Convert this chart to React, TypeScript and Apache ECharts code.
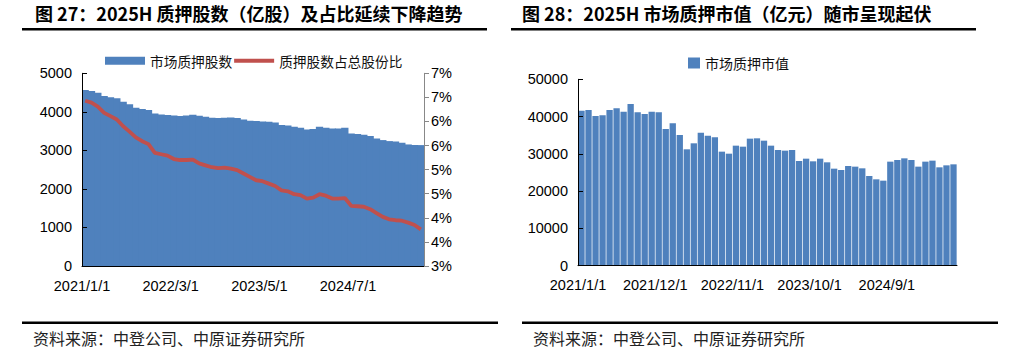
import React, { useEffect, useRef } from "react";
import * as echarts from "echarts";

// Month categories 2021/1/1 .. 2025/6/1
const months: string[] = [];
for (let y = 2021; y <= 2025; y++) {
  for (let m = 1; m <= 12; m++) {
    if (y === 2025 && m > 6) break;
    months.push(`${y}/${m}/1`);
  }
}

// 图27: 市场质押股数 (亿股)
const pledgedShares = [
  4567, 4541, 4497, 4411, 4376, 4350, 4263, 4194, 4107, 4073,
  4047, 3960, 3934, 3917, 3908, 3891, 3908, 3925, 3899, 3873,
  3847, 3839, 3847, 3856, 3839, 3804, 3769, 3761, 3752, 3743,
  3726, 3657, 3648, 3613, 3588, 3544, 3553, 3613, 3588, 3570,
  3570, 3588, 3440, 3423, 3405, 3371, 3310, 3267, 3241, 3232,
  3198, 3154, 3137, 3137,
];

// 图27: 质押股数占总股份比 (%)
const pledgedRatio = [
  6.43, 6.39, 6.31, 6.18, 6.11, 6.04, 5.9, 5.79, 5.67, 5.59,
  5.53, 5.35, 5.32, 5.29, 5.22, 5.2, 5.2, 5.21, 5.13, 5.09,
  5.05, 5.03, 5.04, 5.02, 4.99, 4.92, 4.85, 4.78, 4.76, 4.71,
  4.66, 4.57, 4.55, 4.49, 4.47, 4.4, 4.42, 4.49, 4.46, 4.4,
  4.4, 4.41, 4.25, 4.24, 4.23, 4.18, 4.1, 4.02, 3.97, 3.95,
  3.94, 3.9, 3.85, 3.76,
];

// 图28: 市场质押市值 (亿元)
const pledgedValue = [
  41590, 41770, 40160, 40340, 41770, 42220, 41320, 43380, 41150, 40700,
  41320, 41150, 36670, 38190, 35060, 31220, 32830, 35690, 34880, 34440,
  30590, 30050, 32200, 31930, 34080, 34170, 33540, 32200, 31040, 30860,
  31040, 28090, 28710, 28000, 28710, 27730, 26030, 25670, 26740, 26570,
  26120, 24060, 23170, 22810, 27910, 28350, 28800, 28350, 26570, 27910,
  28180, 26390, 26920, 27190,
];

const leftTicks = [0, 1000, 2000, 3000, 4000, 5000];
const rightPctMin = 3;
const rightPctMax = 7;
const valueTicksMax = 50000;

const title27 = "图 27：2025H 质押股数（亿股）及占比延续下降趋势";
const title28 = "图 28：2025H 市场质押市值（亿元）随市呈现起伏";
const source = "资料来源：中登公司、中原证券研究所";

const NUM_FONT = "'Liberation Sans', Arial, sans-serif";
const CJK_FONT = "'Noto Sans CJK SC', 'Liberation Sans', sans-serif";
const BLUE = "#4F81BD";
const RED = "#C0504D";

export default function App() {
  const ref = useRef<HTMLDivElement>(null);

  useEffect(() => {
    if (!ref.current) return;
    const chart = echarts.init(ref.current, undefined, { renderer: "svg" });

    const labelStyle = {
      fontFamily: NUM_FONT,
      fontSize: 14.5,
      color: "#000",
    };

    chart.setOption({
      animation: false,
      backgroundColor: "#fff",
      grid: [
        { left: 82, top: 73.3, width: 342, height: 192.7, containLabel: false },
        { left: 578, top: 79.3, width: 379, height: 186.4, containLabel: false },
      ],
      legend: [
        {
          left: 105,
          top: 54,
          padding: 0,
          itemWidth: 40,
          itemHeight: 8,
          itemGap: 0,
          textStyle: { fontFamily: CJK_FONT, fontSize: 13.7, color: "#111" },
          data: [
            { name: "市场质押股数", icon: "rect" },
            {
              name: "质押股数占总股份比",
              itemStyle: { opacity: 0 },
              lineStyle: { width: 4, color: RED },
            },
          ],
        },
        {
          left: 688,
          top: 56,
          padding: 0,
          itemWidth: 12,
          itemHeight: 11,
          textStyle: { fontFamily: CJK_FONT, fontSize: 14, color: "#111" },
          data: [{ name: "市场质押市值", icon: "rect" }],
        },
      ],
      xAxis: [
        {
          type: "category",
          gridIndex: 0,
          data: months,
          z: 10,
          axisLine: { lineStyle: { color: "#000", width: 1 } },
          axisTick: { inside: true, length: 5, interval: 13, lineStyle: { color: "#000" } },
          axisLabel: { ...labelStyle, interval: 13, margin: 12, padding: [0, 6.3, 0, 0] },
          splitLine: { show: false },
        },
        {
          type: "category",
          gridIndex: 1,
          data: months,
          z: 10,
          axisLine: { lineStyle: { color: "#000", width: 1 } },
          axisTick: { inside: true, length: 5, interval: 10, lineStyle: { color: "#000" } },
          axisLabel: { ...labelStyle, interval: 10, margin: 12, padding: [0, 7, 0, 0] },
          splitLine: { show: false },
        },
      ],
      yAxis: [
        {
          type: "value",
          gridIndex: 0,
          min: leftTicks[0],
          max: leftTicks[leftTicks.length - 1],
          interval: 1000,
          z: 10,
          axisLine: { show: true, lineStyle: { color: "#000" } },
          axisTick: { show: true, inside: true, length: 5, lineStyle: { color: "#000" } },
          axisLabel: { ...labelStyle, margin: 10, formatter: (v: number) => String(v) },
          splitLine: { show: false },
        },
        {
          type: "value",
          gridIndex: 0,
          position: "right",
          min: rightPctMin,
          max: rightPctMax,
          interval: 0.5,
          z: 10,
          axisLine: { show: true, lineStyle: { color: "#888" } },
          axisTick: { show: true, length: 5, lineStyle: { color: "#888" } },
          axisLabel: {
            ...labelStyle,
            margin: 7,
            formatter: (v: number) => `${Math.round(v + 1e-9)}%`,
          },
          splitLine: { show: false },
        },
        {
          type: "value",
          gridIndex: 1,
          min: 0,
          max: valueTicksMax,
          interval: 10000,
          z: 10,
          axisLine: { show: true, lineStyle: { color: "#000" } },
          axisTick: { show: true, inside: true, length: 5, lineStyle: { color: "#000" } },
          axisLabel: { ...labelStyle, margin: 10, formatter: (v: number) => String(v) },
          splitLine: { show: false },
        },
      ],
      series: [
        {
          name: "市场质押股数",
          type: "bar",
          xAxisIndex: 0,
          yAxisIndex: 0,
          data: pledgedShares,
          barWidth: "115%",
          itemStyle: { color: BLUE },
        },
        {
          name: "质押股数占总股份比",
          type: "line",
          xAxisIndex: 0,
          yAxisIndex: 1,
          data: pledgedRatio,
          symbol: "none",
          z: 5,
          lineStyle: { color: RED, width: 3.8 },
          itemStyle: { color: RED },
        },
        {
          name: "市场质押市值",
          type: "bar",
          xAxisIndex: 1,
          yAxisIndex: 2,
          data: pledgedValue,
          barCategoryGap: "10%",
          itemStyle: { color: BLUE },
        },
      ],
      graphic: [
        {
          type: "text",
          left: 35,
          top: 4,
          style: {
            text: title27,
            fontFamily: CJK_FONT,
            fontSize: 18,
            fontWeight: "bold",
            fill: "#000",
          },
        },
        { type: "rect", shape: { x: 22, y: 28, width: 465, height: 2.5 }, style: { fill: "#000" } },
        {
          type: "text",
          left: 522,
          top: 4,
          style: {
            text: title28,
            fontFamily: CJK_FONT,
            fontSize: 18,
            fontWeight: "bold",
            fill: "#000",
          },
        },
        { type: "rect", shape: { x: 511, y: 28, width: 465, height: 2.5 }, style: { fill: "#000" } },
        { type: "rect", shape: { x: 22, y: 321.5, width: 476, height: 2.5 }, style: { fill: "#000" } },
        { type: "rect", shape: { x: 522, y: 321.5, width: 476, height: 2.5 }, style: { fill: "#000" } },
        {
          type: "text",
          left: 33,
          top: 330,
          style: { text: source, fontFamily: CJK_FONT, fontSize: 16, fill: "#222" },
        },
        {
          type: "text",
          left: 533,
          top: 330,
          style: { text: source, fontFamily: CJK_FONT, fontSize: 16, fill: "#222" },
        },
      ],
    });

    return () => chart.dispose();
  }, []);

  return (
    <div
      ref={ref}
      style={{ position: "absolute", left: 0, top: 0, width: 1023, height: 353, background: "#fff" }}
    />
  );
}
